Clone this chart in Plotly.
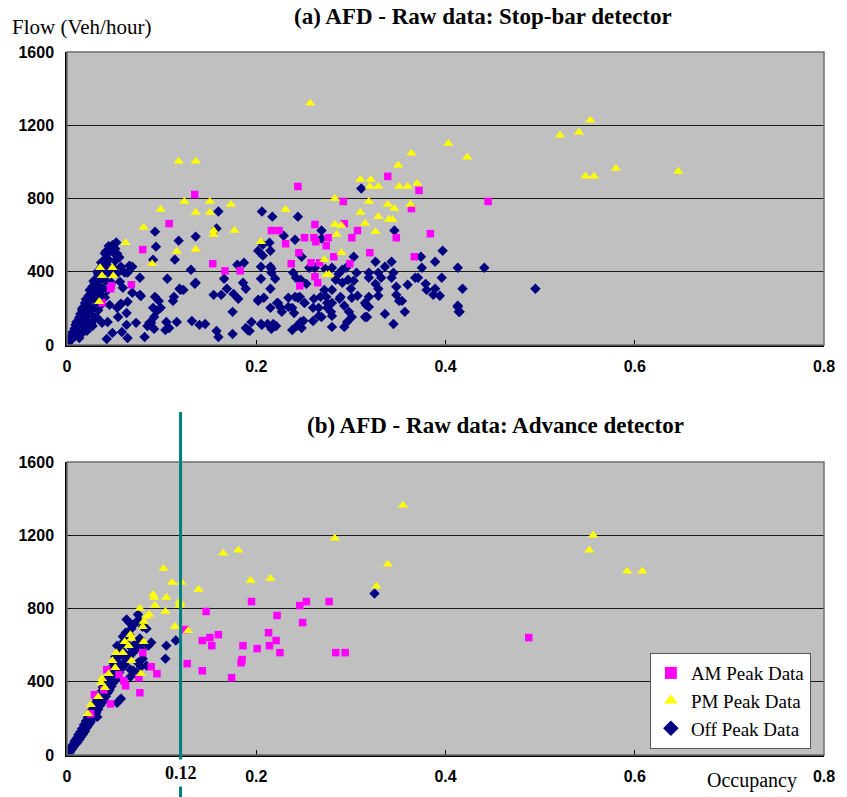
import plotly.graph_objects as go

# ---------------- (a) Stop-bar detector ----------------
a_am_occ = [0.244, 0.135, 0.292, 0.108, 0.080, 0.154, 0.167, 0.183, 0.068, 0.047, 0.046, 0.037,
            0.216, 0.224, 0.262, 0.251, 0.261, 0.276, 0.231, 0.263, 0.274, 0.301, 0.245, 0.282,
            0.237, 0.258, 0.299, 0.262, 0.265, 0.246, 0.339, 0.372, 0.445, 0.364, 0.293, 0.307,
            0.348, 0.384, 0.320, 0.267, 0.367]
a_am_flow = [866, 822, 784, 663, 521, 444, 405, 405, 329, 323, 307, 230,
             625, 625, 658, 586, 586, 586, 553, 564, 542, 586, 504, 482,
             444, 449, 444, 373, 340, 323, 921, 844, 784, 745, 663, 625,
             586, 608, 504, 449, 482]

a_pm_occ = [0.257, 0.118, 0.136, 0.521, 0.541, 0.553, 0.403, 0.423, 0.364, 0.350, 0.548, 0.557,
            0.580, 0.646, 0.310, 0.321, 0.320, 0.329, 0.351, 0.360, 0.370, 0.283, 0.319, 0.339,
            0.346, 0.363, 0.231, 0.310, 0.329, 0.340, 0.344, 0.315, 0.283, 0.290, 0.326, 0.285,
            0.205, 0.290, 0.272, 0.274, 0.277, 0.099, 0.124, 0.151, 0.173, 0.136, 0.151, 0.081,
            0.155, 0.155, 0.177, 0.062, 0.116, 0.136, 0.090, 0.035, 0.048, 0.037, 0.049, 0.034]
a_pm_flow = [1320, 1003, 1003, 1145, 1162, 1227, 1101, 1025, 1047, 981, 921, 921,
             964, 948, 904, 904, 866, 866, 866, 866, 882, 800, 784, 767,
             745, 767, 740, 723, 701, 685, 685, 663, 658, 652, 619, 603,
             564, 504, 466, 384, 384, 740, 784, 784, 767, 723, 723, 641,
             625, 603, 625, 559, 510, 521, 444, 422, 422, 378, 378, 236]

a_off_occ = [
    # dense start-up band
    0.001, 0.002, 0.003, 0.004, 0.005, 0.006, 0.007, 0.008, 0.009, 0.010, 0.011, 0.012,
    0.013, 0.014, 0.015, 0.016, 0.017, 0.018, 0.019, 0.020, 0.021, 0.022, 0.023, 0.024,
    0.025, 0.026, 0.027, 0.028, 0.029, 0.030, 0.031, 0.032, 0.033, 0.034, 0.035, 0.036,
    0.037, 0.038, 0.039, 0.040, 0.041, 0.042, 0.043, 0.044, 0.046, 0.048, 0.050, 0.052,
    0.015, 0.018, 0.020, 0.022, 0.024, 0.026, 0.028, 0.030, 0.031, 0.033, 0.034, 0.036,
    0.038, 0.040, 0.041, 0.043, 0.045, 0.047, 0.049, 0.051, 0.053, 0.055,
    0.010, 0.016, 0.020, 0.024, 0.028, 0.032, 0.036, 0.040, 0.044,
    # scattered
    0.041, 0.051, 0.053, 0.055, 0.039, 0.057, 0.066, 0.061, 0.064, 0.056, 0.069, 0.077,
    0.064, 0.056, 0.045, 0.063, 0.054, 0.073, 0.063, 0.043, 0.058, 0.048, 0.064, 0.082,
    0.087, 0.092, 0.078, 0.085, 0.069, 0.077, 0.013, 0.021, 0.027, 0.032, 0.037,
    0.094, 0.118, 0.136, 0.093, 0.106, 0.114, 0.131, 0.136, 0.120, 0.123, 0.059, 0.057,
    0.053, 0.105, 0.116, 0.132, 0.042, 0.191, 0.189, 0.206, 0.212, 0.155, 0.163, 0.169,
    0.176, 0.181, 0.189, 0.187, 0.175,
    0.160, 0.206, 0.217, 0.244, 0.158, 0.091, 0.229, 0.214, 0.215, 0.241, 0.207, 0.205,
    0.215, 0.248, 0.180, 0.239, 0.216, 0.242, 0.166, 0.205, 0.220, 0.135, 0.186, 0.119,
    0.215, 0.208, 0.234, 0.241, 0.246, 0.251, 0.222, 0.215, 0.226, 0.091, 0.095, 0.238,
    0.227, 0.240, 0.089, 0.104, 0.108, 0.092, 0.218, 0.243, 0.247, 0.202, 0.113, 0.093,
    0.097, 0.112, 0.099,
    0.311, 0.269, 0.346, 0.397, 0.374, 0.389, 0.413, 0.441, 0.375, 0.326, 0.343, 0.336,
    0.303, 0.280, 0.291, 0.295, 0.256, 0.262, 0.306, 0.319, 0.329, 0.345, 0.287, 0.319,
    0.332, 0.343, 0.368, 0.371, 0.396, 0.284, 0.297, 0.303, 0.247, 0.253, 0.272, 0.280,
    0.291, 0.300, 0.326, 0.329, 0.348, 0.360, 0.379, 0.389, 0.418, 0.380, 0.289, 0.307,
    0.319, 0.329, 0.348, 0.387, 0.394, 0.268, 0.274, 0.251, 0.275, 0.315, 0.319, 0.351,
    0.354, 0.260, 0.266, 0.275, 0.279, 0.293, 0.298, 0.357, 0.413, 0.415, 0.266, 0.269,
    0.280, 0.301, 0.315, 0.260, 0.247, 0.293,
    0.495, 0.413, 0.414, 0.269, 0.207, 0.202, 0.216, 0.202, 0.223, 0.234, 0.244, 0.261,
    0.280, 0.288, 0.301, 0.273, 0.336, 0.345, 0.296, 0.280, 0.250, 0.248, 0.238, 0.216,
    0.221, 0.195, 0.205, 0.317, 0.316, 0.146, 0.158, 0.175, 0.160, 0.193, 0.140]
a_off_flow = [
    5, 20, 35, 25, 55, 70, 45, 90, 110, 80, 130, 105,
    150, 170, 125, 190, 160, 210, 230, 185, 250, 215, 270, 240,
    295, 260, 320, 285, 340, 300, 360, 330, 385, 350, 405, 370,
    430, 395, 455, 415, 475, 440, 500, 465, 520, 545, 500, 560,
    60, 100, 140, 95, 170, 120, 200, 150, 240, 190, 280, 220,
    310, 260, 350, 300, 390, 340, 420, 460, 390, 480,
    125, 200, 250, 300, 350, 400, 450, 500, 540,
    510, 526, 499, 477, 460, 427, 433, 395, 395, 345, 285, 274,
    236, 219, 219, 175, 153, 121, 110, 126, 71, 66, 38, 44,
    121, 153, 268, 104, 427, 367, 38, 77, 104, 148, 121,
    537, 570, 592, 619, 362, 466, 411, 340, 301, 301, 312, 225,
    203, 126, 126, 131, 33, 82, 93, 110, 115, 274, 274, 307,
    279, 252, 307, 449, 181,
    729, 729, 701, 701, 636, 466, 597, 559, 515, 575, 488, 427,
    427, 482, 438, 395, 395, 367, 362, 362, 362, 334, 340, 307,
    307, 258, 258, 263, 263, 230, 230, 203, 203, 203, 186, 203,
    181, 175, 121, 82, 93, 88, 115, 104, 121, 241, 263, 263,
    241, 241, 203,
    855, 625, 625, 515, 482, 455, 422, 422, 422, 455, 455, 427,
    482, 422, 411, 422, 422, 422, 395, 395, 395, 395, 389, 367,
    367, 367, 367, 367, 367, 356, 356, 351, 356, 334, 301, 301,
    340, 307, 334, 307, 318, 329, 334, 307, 307, 301, 263, 269,
    263, 269, 274, 274, 269, 263, 263, 230, 230, 230, 208, 241,
    241, 203, 203, 203, 181, 214, 181, 181, 214, 181, 159, 153,
    159, 153, 153, 131, 126, 99,
    307, 208, 181, 581, 548, 515, 416, 247, 230, 208, 258, 252,
    230, 252, 258, 416, 170, 115, 126, 99, 132, 93, 82, 88,
    104, 126, 115, 153, 219, 115, 77, 60, 44, 77, 110]

# ---------------- (b) Advance detector ----------------
b_am_occ = [0.195, 0.246, 0.253, 0.277, 0.147, 0.222, 0.249, 0.125, 0.160, 0.213, 0.151, 0.143,
            0.153, 0.186, 0.201, 0.214, 0.221, 0.225, 0.284, 0.294, 0.488, 0.127, 0.184, 0.185,
            0.143, 0.174, 0.080, 0.089, 0.095, 0.042, 0.055, 0.060, 0.076, 0.062, 0.077, 0.029,
            0.039, 0.046, 0.025]
b_am_flow = [838, 816, 838, 838, 784, 762, 723, 685, 657, 668, 641, 625,
             597, 597, 581, 597, 625, 559, 559, 559, 641, 499, 504, 521,
             460, 422, 559, 482, 444, 466, 438, 405, 422, 378, 340, 329,
             356, 279, 225]

b_pm_occ = [0.355, 0.283, 0.556, 0.552, 0.592, 0.608, 0.165, 0.181, 0.339, 0.327, 0.194, 0.215,
            0.139, 0.121, 0.120, 0.128, 0.102, 0.111, 0.091, 0.092, 0.105, 0.119, 0.119, 0.093,
            0.104, 0.077, 0.087, 0.084, 0.081, 0.080, 0.114, 0.067, 0.068, 0.081, 0.061, 0.065,
            0.052, 0.059, 0.068, 0.048, 0.051, 0.044, 0.078, 0.037, 0.036, 0.040, 0.033, 0.025,
            0.022]
b_pm_flow = [1364, 1184, 1200, 1118, 1003, 1003, 1101, 1118, 1041, 921, 953, 964,
             904, 942, 827, 679, 1019, 942, 877, 860, 860, 838, 816, 816,
             784, 800, 767, 756, 729, 701, 701, 657, 636, 619, 619, 597,
             559, 559, 515, 515, 477, 444, 444, 416, 395, 367, 318, 274,
             225]

b_off_occ = [
    # dense start-up band
    0.001, 0.002, 0.003, 0.004, 0.005, 0.006, 0.007, 0.008, 0.009, 0.010, 0.011, 0.012,
    0.013, 0.014, 0.015, 0.016, 0.017, 0.018, 0.019, 0.020, 0.021, 0.022, 0.023, 0.024,
    0.025, 0.026, 0.027, 0.028, 0.029, 0.030, 0.031, 0.032, 0.033, 0.034, 0.035, 0.036,
    0.037, 0.038, 0.039, 0.040, 0.041, 0.042, 0.043, 0.044, 0.045, 0.046, 0.047, 0.048,
    0.049, 0.050, 0.051, 0.052, 0.053, 0.054, 0.055, 0.056, 0.057, 0.058, 0.059, 0.060,
    0.062, 0.064, 0.066, 0.068, 0.070, 0.072, 0.074, 0.076, 0.078, 0.080,
    0.015, 0.020, 0.025, 0.030, 0.035, 0.040, 0.045, 0.050, 0.055, 0.060, 0.065,
    # scattered
    0.066, 0.063, 0.069, 0.075, 0.084, 0.089, 0.105, 0.115, 0.104, 0.069, 0.073, 0.067,
    0.078, 0.073, 0.067, 0.057, 0.053, 0.032, 0.061, 0.056, 0.051, 0.049, 0.059, 0.053,
    0.059, 0.062, 0.066, 0.077, 0.072, 0.079, 0.086, 0.080, 0.075, 0.084, 0.070, 0.325]
b_off_flow = [
    10, 25, 15, 40, 30, 55, 45, 75, 60, 90, 70, 110,
    85, 125, 100, 145, 115, 165, 130, 185, 150, 205, 165, 225,
    180, 245, 200, 265, 215, 285, 230, 305, 250, 325, 270, 345,
    285, 370, 300, 390, 320, 410, 340, 430, 355, 455, 375, 480,
    395, 500, 410, 525, 430, 550, 450, 575, 470, 600, 490, 620,
    510, 650, 540, 690, 560, 720, 590, 740, 610, 700,
    125, 160, 215, 260, 310, 350, 400, 450, 500, 560, 600,
    723, 740, 707, 767, 690, 614, 597, 625, 526, 564, 581, 466,
    482, 449, 427, 307, 285, 208, 493, 575, 537, 504, 543, 597,
    647, 668, 657, 636, 608, 575, 597, 526, 504, 488, 460, 882]

x_ticks = [0, 0.2, 0.4, 0.6, 0.8]
x_tick_text = ["0", "0.2", "0.4", "0.6", "0.8"]
y_ticks = [0, 400, 800, 1200, 1600]
y_tick_text = ["0", "400", "800", "1200", "1600"]
threshold_occ = 0.12

NAVY = "#000080"
MAGENTA = "#FF00FF"
YELLOW = "#FFFF00"
SERIF = "Liberation Serif, Times New Roman, serif"
SANS = "Liberation Sans, Arial, sans-serif"

fig = go.Figure()


def add_panel(xa, ya, off, am, pm, legend):
    fig.add_trace(go.Scatter(
        x=off[0], y=off[1], mode="markers", name="Off Peak Data", xaxis=xa, yaxis=ya,
        marker=dict(symbol="diamond", size=8, color=NAVY, line=dict(width=0)),
        showlegend=legend, legendrank=3, legendgroup="off"))
    fig.add_trace(go.Scatter(
        x=am[0], y=am[1], mode="markers", name="AM Peak Data", xaxis=xa, yaxis=ya,
        marker=dict(symbol="square", size=7.5, color=MAGENTA, line=dict(width=0)),
        showlegend=legend, legendrank=1, legendgroup="am"))
    fig.add_trace(go.Scatter(
        x=pm[0], y=pm[1], mode="markers", name="PM Peak Data", xaxis=xa, yaxis=ya,
        marker=dict(symbol="triangle-up", size=9, color=YELLOW, line=dict(width=0)),
        showlegend=legend, legendrank=2, legendgroup="pm"))


add_panel("x", "y", (a_off_occ, a_off_flow), (a_am_occ, a_am_flow), (a_pm_occ, a_pm_flow), False)
add_panel("x2", "y2", (b_off_occ, b_off_flow), (b_am_occ, b_am_flow), (b_pm_occ, b_pm_flow), True)

tick_font = dict(family=SANS, size=16, color="black", weight="bold")
xaxis_style = dict(range=[0, 0.8], tickvals=x_ticks, ticktext=x_tick_text, showgrid=False,
                   zeroline=False, showline=True, linecolor="black", linewidth=1.5,
                   ticks="inside", ticklen=5, tickcolor="black", tickfont=tick_font,
                   ticklabelstandoff=6)
yaxis_style = dict(range=[0, 1600], tickvals=y_ticks, ticktext=y_tick_text, showgrid=True,
                   gridcolor="#1a1a1a", gridwidth=1, zeroline=False, showline=True,
                   linecolor="black", linewidth=1.5, ticks="inside", ticklen=4,
                   tickcolor="black", tickfont=tick_font, ticklabelstandoff=8)

top_dom = [0.5832, 1.0]
bot_dom = [0.0, 0.4168]

fig.update_layout(
    width=847, height=797,
    margin=dict(l=67, r=20, t=52, b=42),
    paper_bgcolor="white", plot_bgcolor="#C0C0C0",
    xaxis=dict(domain=[0, 1], anchor="y", **xaxis_style),
    yaxis=dict(domain=top_dom, anchor="x", **yaxis_style),
    xaxis2=dict(domain=[0, 1], anchor="y2", **xaxis_style),
    yaxis2=dict(domain=bot_dom, anchor="x2", **yaxis_style),
    legend=dict(x=0.770, y=0.145, xanchor="left", yanchor="top",
                bgcolor="white", bordercolor="#555555", borderwidth=1,
                font=dict(family=SERIF, size=19, color="black"),
                itemsizing="constant", tracegroupgap=0),
    showlegend=True,
)

# plot-area frames
for dom in (top_dom, bot_dom):
    fig.add_shape(type="rect", xref="paper", yref="paper", x0=0, x1=1, y0=dom[0], y1=dom[1],
                  line=dict(color="#6e6e6e", width=1.5), layer="above")

# occupancy threshold marker on the advance-detector panel
fig.add_shape(type="line", xref="x2", yref="paper", x0=threshold_occ, x1=threshold_occ,
              y0=-0.06, y1=0.488, line=dict(color="#008080", width=3), layer="above")

fig.add_annotation(x=threshold_occ, xref="x2", y=-0.0256, yref="paper",
                   xanchor="center", yanchor="middle",
                   text="<b>0.12</b>", showarrow=False, bgcolor="white", borderpad=3,
                   font=dict(family=SERIF, size=18, color="black"))

fig.add_annotation(x=0.549, y=1.0498, xref="paper", yref="paper", showarrow=False,
                   xanchor="center", yanchor="middle",
                   text="<b>(a) AFD - Raw data: Stop-bar detector</b>",
                   font=dict(family=SERIF, size=23, color="black"))
fig.add_annotation(x=0.566, y=0.468, xref="paper", yref="paper", showarrow=False,
                   xanchor="center", yanchor="middle",
                   text="<b>(b) AFD - Raw data: Advance detector</b>",
                   font=dict(family=SERIF, size=23, color="black"))
fig.add_annotation(x=-0.075, y=1.0356, xref="paper", yref="paper", showarrow=False,
                   xanchor="left", yanchor="middle", text="Flow (Veh/hour)",
                   font=dict(family=SERIF, size=21, color="black"))
fig.add_annotation(x=0.905, y=-0.0356, xref="paper", yref="paper", showarrow=False,
                   xanchor="center", yanchor="middle",
                   text="Occupancy", font=dict(family=SERIF, size=20, color="black"))

fig.write_html("out.html")
